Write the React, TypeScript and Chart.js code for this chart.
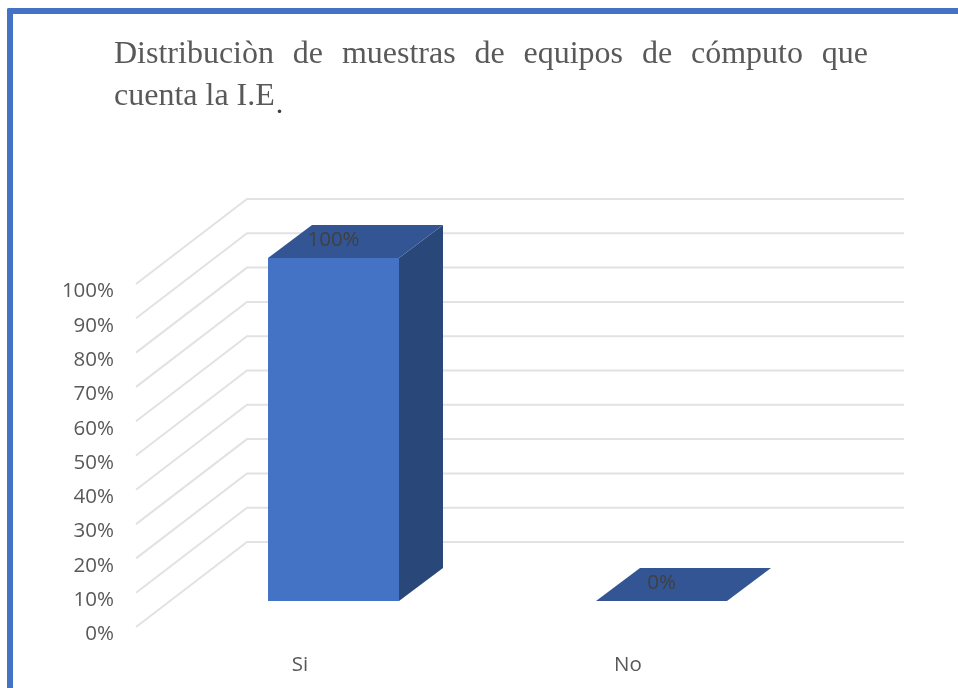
import React, { useEffect, useRef } from "react";
import { Chart, registerables } from "chart.js";

Chart.register(...registerables);

const categories = ["Si", "No"];
const seriesName = "Serie 1";
const values = [100, 0];
const dataLabels = ["100%", "0%"];
const titleMain = "Distribuciòn de muestras de equipos de cómputo que cuenta la I.E";
const titleDot = ".";

const FRONT = "#4472c4";
const TOP = "#335593";
const SIDE = "#2a4779";
const GRID = "#e2e2e2";
const TICK_TEXT = "#595959";
const LABEL_TEXT = "#404040";
const FONT = '"Open Sans", sans-serif';

// Projection of the 3D box and walls relative to the plane of the bars' front face.
const DEPTH_X = 44;
const DEPTH_Y = 33;
const WALL_FRONT_X = 136;
const WALL_BACK_X = 247;
const WALL_RIGHT_X = 904;
const WALL_FRONT_DY = 26;
const WALL_BACK_DY = -59;

const walls3D = {
  id: "walls3D",
  beforeDatasetsDraw(chart: any) {
    const { ctx, scales } = chart;
    ctx.save();
    ctx.strokeStyle = GRID;
    ctx.lineWidth = 2;
    for (const t of scales.y.ticks) {
      const y = scales.y.getPixelForValue(t.value);
      ctx.beginPath();
      ctx.moveTo(WALL_FRONT_X, y + WALL_FRONT_DY);
      ctx.lineTo(WALL_BACK_X, y + WALL_BACK_DY);
      ctx.lineTo(WALL_RIGHT_X, y + WALL_BACK_DY);
      ctx.stroke();
    }
    ctx.restore();
  },
};

const box3D = {
  id: "box3D",
  afterDatasetsDraw(chart: any) {
    const { ctx } = chart;
    const meta = chart.getDatasetMeta(0);
    ctx.save();
    meta.data.forEach((bar: any, i: number) => {
      const l = bar.x - bar.width / 2;
      const r = bar.x + bar.width / 2;
      const top = bar.y;
      const base = bar.base;
      if (base - top > 0) {
        ctx.fillStyle = SIDE;
        ctx.beginPath();
        ctx.moveTo(r, top);
        ctx.lineTo(r + DEPTH_X, top - DEPTH_Y);
        ctx.lineTo(r + DEPTH_X, base - DEPTH_Y);
        ctx.lineTo(r, base);
        ctx.closePath();
        ctx.fill();
      }
      ctx.fillStyle = TOP;
      ctx.beginPath();
      ctx.moveTo(l, top);
      ctx.lineTo(l + DEPTH_X, top - DEPTH_Y);
      ctx.lineTo(r + DEPTH_X, top - DEPTH_Y);
      ctx.lineTo(r, top);
      ctx.closePath();
      ctx.fill();
      ctx.fillStyle = LABEL_TEXT;
      ctx.font = `20.5px ${FONT}`;
      ctx.textAlign = "center";
      ctx.textBaseline = "middle";
      ctx.fillText(dataLabels[i], bar.x, top - 18);
    });
    ctx.restore();
  },
};

export default function App() {
  const ref = useRef<HTMLCanvasElement>(null);
  useEffect(() => {
    const chart = new Chart(ref.current as HTMLCanvasElement, {
      type: "bar",
      data: {
        labels: categories,
        datasets: [
          {
            label: seriesName,
            data: values,
            backgroundColor: FRONT,
            borderWidth: 0,
            categoryPercentage: 1,
            barPercentage: 131 / 328,
          },
        ],
      },
      options: {
        animation: false,
        responsive: false,
        layout: { padding: { top: 258, right: 132.5, bottom: 0, left: 0 } },
        plugins: { legend: { display: false }, title: { display: false }, tooltip: { enabled: false } },
        scales: {
          x: {
            grid: { display: false },
            border: { display: false },
            afterFit(scale: any) {
              scale.height = 87;
            },
            ticks: {
              color: TICK_TEXT,
              font: { family: FONT, size: 20.5 },
              padding: 44,
              labelOffset: -33.5,
              maxRotation: 0,
              autoSkip: false,
            },
          },
          y: {
            min: 0,
            max: 100,
            grid: { display: false, drawTicks: false },
            border: { display: false },
            afterFit(scale: any) {
              scale.width = 169.5;
            },
            ticks: {
              stepSize: 10,
              color: TICK_TEXT,
              font: { family: FONT, size: 20.5 },
              padding: 55.5,
              labelOffset: 33.5,
              callback: (v: any) => `${v}%`,
            },
          },
        },
      },
      plugins: [walls3D, box3D],
    } as any);
    return () => chart.destroy();
  }, []);

  return (
    <div
      style={{
        position: "absolute",
        left: 0,
        top: 0,
        width: 958,
        height: 688,
        overflow: "hidden",
        background: "#fff",
        filter: "blur(0.6px)",
      }}
    >
      <canvas ref={ref} width={958} height={688} style={{ position: "absolute", left: 0, top: 0, display: "block" }} />
      <div
        style={{
          position: "absolute",
          left: 7,
          top: 8,
          width: 951,
          height: 680,
          boxSizing: "border-box",
          borderLeft: `6px solid ${FRONT}`,
          borderTop: `6px solid ${FRONT}`,
          borderTopLeftRadius: 2,
        }}
      />
      <div
        style={{
          position: "absolute",
          left: 114,
          top: 31,
          width: 754,
          fontFamily: '"Liberation Serif", serif',
          fontSize: 32,
          lineHeight: "42px",
          color: "#595959",
          textAlign: "justify",
        }}
      >
        {titleMain}
        <span style={{ position: "relative", top: 8, color: "#404040", marginLeft: 1, fontSize: 30 }}>{titleDot}</span>
      </div>
    </div>
  );
}
